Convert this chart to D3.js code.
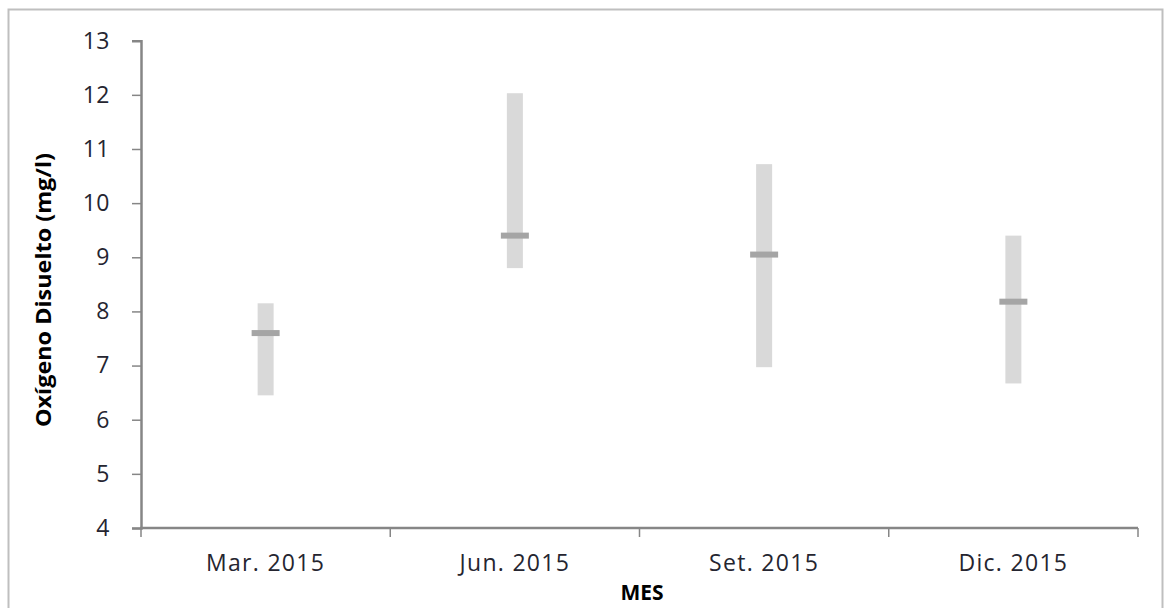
<!DOCTYPE html>
<html>
<head>
<meta charset="utf-8">
<script src="https://cdn.jsdelivr.net/npm/d3@7"></script>
<style>
  body { margin: 0; background: #fff; }
  svg { display: block; }
</style>
</head>
<body>
<div id="chart"></div>
<script>
// Daten
var months = ["Mar. 2015", "Jun. 2015", "Set. 2015", "Dic. 2015"];
var minValues = [6.45, 8.8, 6.97, 6.67];
var maxValues = [8.15, 12.03, 10.72, 9.4];
var meanValues = [7.6, 9.4, 9.05, 8.18];
var yTicks = [4, 5, 6, 7, 8, 9, 10, 11, 12, 13];

var W = 1169, H = 608;
var margin = {top: 40.7, right: 31, bottom: 80, left: 141};
var width = 1138 - margin.left,
    height = 528 - margin.top;

var labelFont = "'Open Sans', 'DejaVu Sans', sans-serif";

var svg = d3.select("#chart").append("svg")
    .attr("width", W)
    .attr("height", H);

// Rahmen
svg.append("rect")
    .attr("x", 8.5).attr("y", 9.5)
    .attr("width", 1154).attr("height", 610)
    .attr("fill", "none")
    .attr("stroke", "#bfbfbf")
    .attr("stroke-width", 2);

var g = svg.append("g")
    .attr("transform", "translate(" + margin.left + "," + margin.top + ")");

var x = d3.scaleBand().domain(months).range([0, width]);
var y = d3.scaleLinear().domain([4, 13]).range([height, 0]);

// Y-Achse
var yAxis = g.append("g")
    .call(d3.axisLeft(y).tickValues(yTicks).tickSize(9).tickSizeOuter(9).tickPadding(22));
yAxis.select(".domain").attr("stroke", "#868686").attr("stroke-width", 2.5);
yAxis.selectAll(".tick line").attr("stroke", "#868686").attr("stroke-width", 1.5);
yAxis.selectAll("text")
    .style("font-family", labelFont)
    .style("font-size", "23px")
    .style("letter-spacing", "0.5px")
    .attr("fill", "#252530");

// X-Achse mit Ticks an den Kategoriegrenzen
var xAxisG = g.append("g").attr("transform", "translate(0," + height + ")");
xAxisG.append("line")
    .attr("x1", -1).attr("x2", width)
    .attr("stroke", "#868686").attr("stroke-width", 2.5);
var bounds = months.map(function(m) { return x(m); }).concat([width]);
xAxisG.selectAll(".xtick")
    .data(bounds)
    .enter().append("line")
    .attr("class", "xtick")
    .attr("x1", d => d).attr("x2", d => d)
    .attr("y1", 0).attr("y2", 9)
    .attr("stroke", "#868686").attr("stroke-width", 1.5);
xAxisG.selectAll(".xlabel")
    .data(months)
    .enter().append("text")
    .attr("x", d => x(d) + x.bandwidth() / 2)
    .attr("y", 43)
    .attr("text-anchor", "middle")
    .style("font-family", labelFont)
    .style("font-size", "23px")
    .style("letter-spacing", "1.3px")
    .attr("fill", "#252530")
    .text(d => d);

// Bereichsbalken (Min-Max)
var barW = 16;
g.selectAll(".range")
    .data(months)
    .enter().append("rect")
    .attr("class", "range")
    .attr("x", d => x(d) + x.bandwidth() / 2 - barW / 2)
    .attr("y", (d, i) => y(maxValues[i]))
    .attr("width", barW)
    .attr("height", (d, i) => y(minValues[i]) - y(maxValues[i]))
    .attr("fill", "#d9d9d9");

// Mittelwerte
var meanW = 28, meanH = 6;
g.selectAll(".mean")
    .data(months)
    .enter().append("rect")
    .attr("class", "mean")
    .attr("x", d => x(d) + x.bandwidth() / 2 - meanW / 2)
    .attr("y", (d, i) => y(meanValues[i]) - meanH / 2)
    .attr("width", meanW)
    .attr("height", meanH)
    .attr("fill", "#a5a5a5");

// Achsentitel
svg.append("text")
    .attr("transform", "translate(51,290) rotate(-90)")
    .attr("text-anchor", "middle")
    .style("font-family", "'Open Sans', 'Liberation Sans', sans-serif")
    .style("font-weight", "bold")
    .style("font-size", "21px")
    .attr("textLength", 274)
    .attr("lengthAdjust", "spacingAndGlyphs")
    .attr("fill", "#000")
    .text("Oxígeno Disuelto (mg/l)");

svg.append("text")
    .attr("x", 642)
    .attr("y", 600)
    .attr("text-anchor", "middle")
    .style("font-family", "'Open Sans', 'Liberation Sans', sans-serif")
    .style("font-weight", "bold")
    .style("font-size", "21px")
    .attr("fill", "#000")
    .text("MES");
</script>
</body>
</html>
